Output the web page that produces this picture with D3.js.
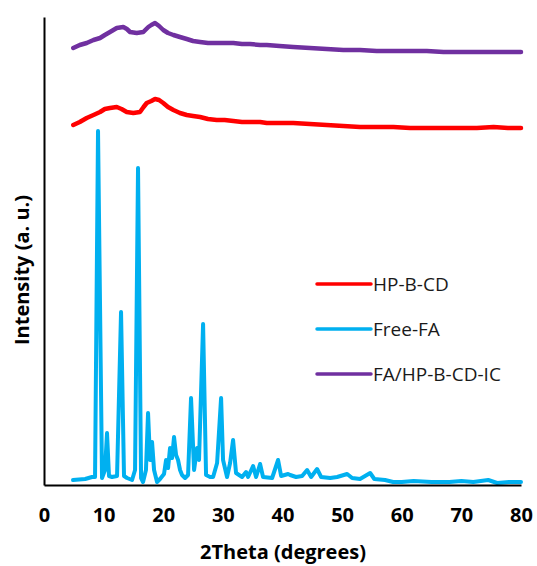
<!DOCTYPE html>
<meta charset="utf-8">
<style>
  body { margin: 0; background: #fff; }
  .axis text { font-family: "Open Sans", sans-serif; font-weight: bold; fill: #000; }
  .trace { fill: none; stroke-linejoin: round; stroke-linecap: round; }
  .legend text { font-family: "Open Sans", sans-serif; fill: #1a1a1a; }
</style>
<svg width="537" height="566"></svg>
<script src="https://d3js.org/d3.v7.min.js"></script>
<script>

  // 2theta (deg) and intensity (a. u., offset stacked)
  var freeFA = [
    [4.87, 5], [6.9, 6], [8.05, 8], [8.56, 8], [9.06, 354], [9.73, 7], [10.23, 15],
    [10.57, 52], [10.9, 9], [11.41, 8], [12.25, 9], [12.92, 173], [13.42, 9],
    [13.93, 7], [14.77, 5], [15.27, 15], [15.77, 317], [16.28, 7], [16.61, 3],
    [17.1, 15], [17.45, 72], [17.79, 25], [18.12, 43], [18.46, 15], [18.96, 3],
    [19.46, 6], [20.13, 11], [20.47, 25], [20.81, 17], [21.14, 37], [21.48, 27],
    [21.81, 48], [22.15, 30], [22.48, 25], [22.82, 15], [23.15, 10], [23.66, 7],
    [24.16, 10], [24.66, 87], [25.17, 15], [25.67, 37], [26.0, 25], [26.68, 161],
    [27.18, 10], [27.85, 8], [28.36, 8], [29.03, 22], [29.7, 87], [30.03, 25],
    [30.7, 8], [31.21, 22], [31.71, 45], [32.21, 12], [33.22, 8], [33.89, 13],
    [34.23, 8], [35.07, 19], [35.57, 8], [36.24, 21], [36.74, 8], [38.26, 7],
    [39.26, 25], [39.77, 9], [40.94, 11], [41.28, 10], [42.28, 8], [43.29, 9],
    [44.13, 15], [44.8, 8], [45.8, 16], [46.48, 8], [48.0, 7], [49.16, 8],
    [50.84, 11], [51.68, 7], [53.0, 6], [54.7, 12], [55.4, 6], [57.2, 5],
    [58.56, 3], [60, 3], [62, 4], [65, 3], [68, 3], [70, 4], [72, 3],
    [74.5, 5], [76, 2], [78, 3], [80, 3]
  ];

  var hpbcd = [
    [4.91, 360], [6.0, 363], [7.16, 367], [8.3, 370], [9.4, 373], [10.2, 376],
    [11.07, 377], [12.2, 378], [13.0, 376], [13.87, 373], [14.98, 372], [16.1, 373],
    [16.7, 378], [17.23, 382], [18.0, 384], [18.62, 386], [19.3, 385], [20.0, 382],
    [20.8, 378], [21.7, 375], [22.8, 372], [23.94, 370], [25.0, 369], [26.17, 368],
    [27.5, 366], [28.97, 365], [30.3, 365], [31.76, 364], [33.2, 363], [34.56, 363],
    [36.24, 363], [37.36, 362], [39.5, 362], [41.8, 362], [44.6, 361], [47.4, 360],
    [50.2, 359], [53.0, 358], [55.8, 358], [58.6, 358], [61.4, 357], [64.2, 357],
    [67.0, 357], [69.8, 357], [72.6, 357], [75.4, 358], [77.8, 357], [80, 357]
  ];

  var complexIC = [
    [4.91, 437], [6.0, 440], [7.16, 442], [8.3, 445], [9.4, 447], [10.2, 450],
    [11.07, 453], [12.2, 457], [13.3, 458], [13.9, 456], [14.43, 453], [15.55, 452],
    [16.66, 453], [17.5, 458], [18.0, 460], [18.62, 462], [19.3, 459], [20.0, 455],
    [20.8, 452], [21.7, 450], [22.8, 448], [23.94, 446], [25.0, 444], [26.17, 443],
    [27.5, 442], [28.97, 442], [30.3, 442], [31.76, 442], [33.2, 441], [34.56, 441],
    [36.24, 440], [37.36, 440], [39.5, 439], [41.8, 438], [44.6, 437], [47.4, 436],
    [50.2, 435], [53.0, 435], [55.8, 434], [58.6, 434], [61.4, 434], [64.2, 434],
    [67.0, 433], [69.8, 433], [72.6, 433], [75.4, 433], [77.8, 433], [80, 433]
  ];

  var xTicks = [0, 10, 20, 30, 40, 50, 60, 70, 80];

  var series = [
    { name: "HP-B-CD", color: "#ff0000", values: hpbcd },
    { name: "Free-FA", color: "#00b0f0", values: freeFA },
    { name: "FA/HP-B-CD-IC", color: "#7030a0", values: complexIC }
  ];

  var svg = d3.select("svg");

  var x = d3.scaleLinear().domain([0, 80]).range([44, 521]);
  var y = d3.scaleLinear().domain([0, 468]).range([485, 17]);

  var line = d3.line()
    .x(function (d) { return x(d[0]); })
    .y(function (d) { return y(d[1]); });

  // traces, drawn bottom to top like the original
  [series[1], series[0], series[2]].forEach(function (s) {
    svg.append("path")
      .datum(s.values)
      .attr("class", "trace")
      .attr("stroke", s.color)
      .attr("stroke-width", s.name == "Free-FA" ? 4 : 4.5)
      .attr("d", line);
  });

  // axes
  var xAxis = svg.append("g")
    .attr("class", "axis")
    .attr("transform", "translate(0," + y(0) + ")")
    .call(d3.axisBottom(x).tickValues(xTicks).tickSize(0).tickPadding(23));
  xAxis.select(".domain").attr("stroke", "#000").attr("stroke-width", 2);
  xAxis.selectAll("text").attr("font-size", 20);

  var yAxis = svg.append("g")
    .attr("class", "axis")
    .attr("transform", "translate(" + x(0) + ",0)")
    .call(d3.axisLeft(y).tickValues([]).tickSize(0));
  yAxis.select(".domain").attr("stroke", "#000").attr("stroke-width", 2);

  svg.append("text")
    .attr("x", 283)
    .attr("y", 559)
    .attr("text-anchor", "middle")
    .attr("font-family", "Open Sans, sans-serif")
    .attr("font-weight", "bold")
    .attr("font-size", 20)
    .text("2Theta (degrees)");

  svg.append("text")
    .attr("transform", "translate(29,270) rotate(-90)")
    .attr("text-anchor", "middle")
    .attr("font-family", "Open Sans, sans-serif")
    .attr("font-weight", "bold")
    .attr("font-size", 20)
    .text("Intensity (a. u.)");

  // legend
  var legend = svg.append("g").attr("class", "legend");
  var item = legend.selectAll("g")
    .data(series)
    .enter().append("g")
    .attr("transform", function (d, i) { return "translate(317," + (284 + i * 45) + ")"; });

  item.append("line")
    .attr("x1", 0).attr("x2", 54)
    .attr("stroke", function (d) { return d.color; })
    .attr("stroke-width", 3.5)
    .attr("stroke-linecap", "round");

  item.append("text")
    .attr("x", 56)
    .attr("dy", "0.36em")
    .attr("font-size", 19)
    .text(function (d) { return d.name; });

</script>
